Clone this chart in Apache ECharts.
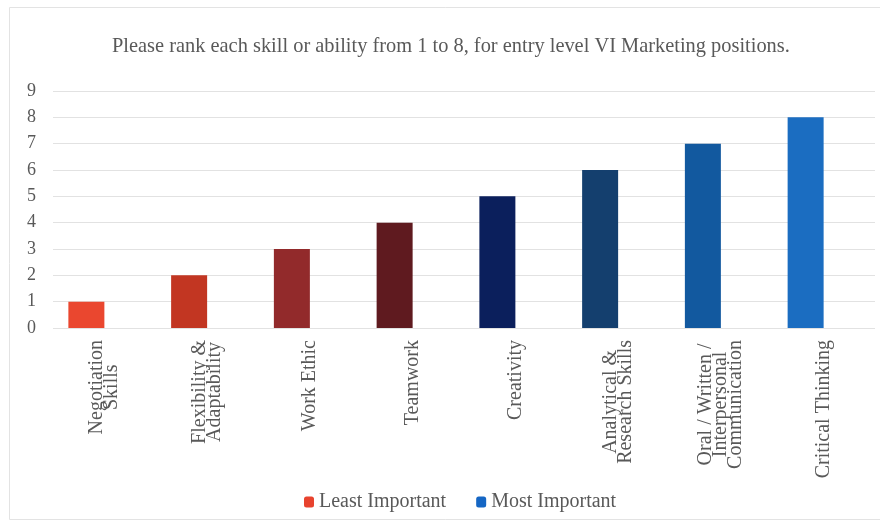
<!DOCTYPE html>
<html>
<head>
<meta charset="utf-8">
<script src="https://cdn.jsdelivr.net/npm/echarts@6/dist/echarts.min.js"></script>
<style>
html,body{margin:0;padding:0;background:#fff;}
#chart{width:880px;height:522px;}
</style>
</head>
<body>
<div id="chart"></div>
<script>
var titleText = 'Please rank each skill or ability from 1 to 8, for entry level VI Marketing positions.';
var categories = [
  'Negotiation\nSkills',
  'Flexibility &\nAdaptability',
  'Work Ethic',
  'Teamwork',
  'Creativity',
  'Analytical &\nResearch Skills',
  'Oral / Written /\nInterpersonal\nCommunication',
  'Critical Thinking'
];
var rankValues = [1, 2, 3, 4, 5, 6, 7, 8];
var yTicks = [0, 1, 2, 3, 4, 5, 6, 7, 8, 9];
var legendNames = ['Least Important', 'Most Important'];
var barColors = ['#EA472F', '#C23622', '#922A2B', '#5F1A1F', '#0B1F5C', '#143F6E', '#12599F', '#1B6DC1'];
var legendColors = ['#E8432E', '#1566C4'];

var textColor = '#595959';
var serif = '"Liberation Serif", "Times New Roman", serif';
var labelFontSize = 20;

// centre the lines of each multi-line rotated label on each other (as in the reference)
var measureCtx = document.createElement('canvas').getContext('2d');
measureCtx.font = labelFontSize + 'px ' + serif;
var labelRich = {};
categories.forEach(function (c, i) {
  var lines = c.split('\n');
  var widths = lines.map(function (l) { return measureCtx.measureText(l).width; });
  var maxW = Math.max.apply(null, widths);
  lines.forEach(function (l, j) {
    labelRich['s' + i + '_' + j] = {
      fontFamily: serif, fontSize: labelFontSize, lineHeight: 15, color: textColor,
      padding: [0, (maxW - widths[j]) / 2, 0, 0]
    };
  });
});

var chart = echarts.init(document.getElementById('chart'), null, {renderer: 'canvas'});
var option = {
  backgroundColor: '#fff',
  animation: false,
  graphic: [{
    type: 'rect', left: 7, top: 5, silent: true,
    shape: {width: 900, height: 512},
    style: {fill: 'none', stroke: '#e3e3e3', lineWidth: 1}
  }],
  title: {
    text: titleText, left: 107, top: 32,
    textStyle: {fontFamily: serif, fontSize: 20.4, fontWeight: 'normal', color: textColor}
  },
  legend: {
    data: legendNames, left: 299, top: 487,
    itemWidth: 10, itemHeight: 11, itemGap: 30,
    textStyle: {fontFamily: serif, fontSize: 20, color: textColor}
  },
  grid: [
    {left: 53, right: 5, top: 91, bottom: 194, outerBoundsMode: 'none'},
    {left: 35, right: 23, top: 91, bottom: 194, outerBoundsMode: 'none'}
  ],
  xAxis: [
    {
      type: 'category', gridIndex: 0, data: categories,
      axisLine: {show: false}, axisTick: {show: false},
      axisLabel: {
        rotate: 90, margin: 12, interval: 0,
        formatter: function (v, idx) {
          return v.split('\n').map(function (l, j) { return '{s' + idx + '_' + j + '|' + l + '}'; }).join('\n');
        },
        rich: labelRich
      }
    },
    {
      type: 'category', gridIndex: 1, data: categories,
      axisLine: {show: false}, axisTick: {show: false}, axisLabel: {show: false}
    }
  ],
  yAxis: [
    {
      type: 'value', gridIndex: 0, min: yTicks[0], max: yTicks[yTicks.length - 1], interval: 1,
      axisLine: {show: false}, axisTick: {show: false},
      axisLabel: {margin: 17, fontFamily: serif, fontSize: 18, color: textColor},
      splitLine: {lineStyle: {color: '#e2e2e2', width: 1}}
    },
    {
      type: 'value', gridIndex: 1, min: yTicks[0], max: yTicks[yTicks.length - 1], interval: 1,
      show: false, splitLine: {show: false}
    }
  ],
  series: [
    {
      name: legendNames[0], type: 'bar', xAxisIndex: 1, yAxisIndex: 1,
      barWidth: 36, barGap: '-100%',
      itemStyle: {color: legendColors[0]},
      data: rankValues.map(function (v, i) { return {value: v, itemStyle: {color: barColors[i]}}; })
    },
    {
      name: legendNames[1], type: 'bar', xAxisIndex: 1, yAxisIndex: 1,
      barWidth: 36, barGap: '-100%',
      itemStyle: {color: legendColors[1]},
      data: []
    }
  ]
};
chart.setOption(option);
</script>
</body>
</html>
